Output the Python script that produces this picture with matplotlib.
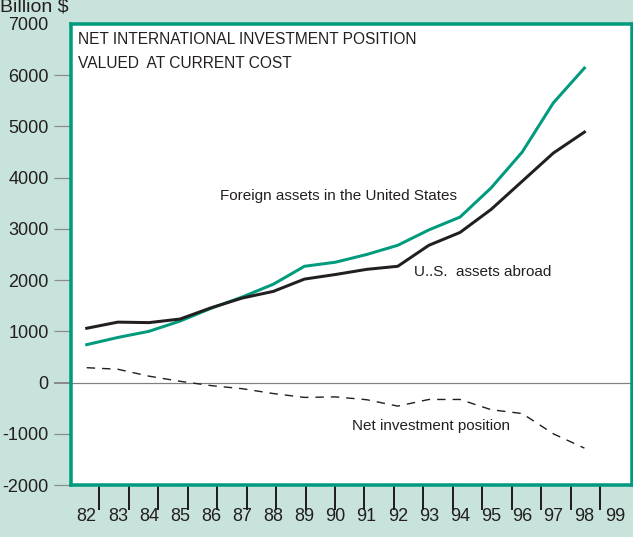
import numpy as np
import matplotlib.pyplot as plt

# data (billion $)
years = np.arange(82, 99)
us_assets_abroad = [1060, 1180, 1170, 1240, 1460, 1650, 1780, 2020, 2110, 2210, 2270,
                    2680, 2930, 3380, 3930, 4480, 4890]
foreign_assets_us = [740, 880, 1000, 1200, 1450, 1670, 1920, 2270, 2350, 2500, 2680,
                     2980, 3230, 3800, 4500, 5460, 6140]
net_position = [290, 260, 125, 25, -60, -120, -215, -290, -280, -335, -460,
                -330, -330, -530, -605, -1000, -1280]
year_labels = [str(y) for y in range(82, 100)]
yticks = [-2000, -1000, 0, 1000, 2000, 3000, 4000, 5000, 6000, 7000]

bg = '#c8e3dc'
green = '#009b7d'
ink = '#231f20'
plt.rcParams['font.family'] = ['Liberation Sans', 'DejaVu Sans']

W, H = 633, 537
PT = 72 / 100  # points per pixel at dpi 100
fig = plt.figure(figsize=(W / 100, H / 100), dpi=100, facecolor=bg)
ax = fig.add_axes([70.7 / W, (H - 485) / H, (631.7 - 70.7) / W, (485 - 24) / H])
ax.set_facecolor('white')

ax.plot(years, foreign_assets_us, color=green, lw=3 * PT, solid_joinstyle='round')
ax.plot(years, us_assets_abroad, color=ink, lw=3 * PT, solid_joinstyle='round')
ax.plot(years, net_position, color=ink, lw=1.4 * PT, dashes=(6, 5))
ax.axhline(0, color='#808080', lw=1.2 * PT, zorder=0)

ax.set_xlim(81.485, 99.52)
ax.set_ylim(-2000, 7000)

for s in ax.spines.values():
    s.set_color(green)
    s.set_linewidth(3.5 * PT)

# y axis
ax.set_yticks(yticks)
ax.set_yticklabels([str(v) for v in yticks], fontsize=13)
ax.tick_params(axis='y', length=17 * PT, width=1.2 * PT, color='#8a8a8a', pad=5 * PT,
               labelcolor=ink)
for val, t in zip(yticks, ax.yaxis.get_major_ticks()):
    if val == 0:
        t.tick1line.set_color(ink)
        t.tick1line.set_markeredgewidth(2 * PT)
    if val == 7000:
        t.tick1line.set_visible(False)

# x axis: labels under the year positions, tick marks slightly offset
label_pos = np.arange(82, 100)
ax.set_xticks(label_pos)
ax.set_xticklabels(year_labels, fontsize=13)
ax.tick_params(axis='x', which='major', length=0, pad=23 * PT, labelcolor=ink)
tick_pos = 82.405 + (label_pos - 82) * 0.947
ax.set_xticks(tick_pos, minor=True)
ax.tick_params(axis='x', which='minor', length=25 * PT, width=2 * PT, color=ink,
               direction='out')

ax.text(0.0135, 0.983, 'NET INTERNATIONAL INVESTMENT POSITION\nVALUED  AT CURRENT COST',
        transform=ax.transAxes, fontsize=11.2, va='top', ha='left', linespacing=1.75,
        color=ink)
ax.text(86.29, 3637, 'Foreign assets in the United States', fontsize=11, va='center',
        color=ink)
ax.text(92.52, 2153, 'U..S.  assets abroad', fontsize=11, va='center', color=ink)
ax.text(90.53, -853, 'Net investment position', fontsize=11, va='center', color=ink)

fig.text(0.0, 1 - 7 / H, 'Billion $', fontsize=14, va='center', ha='left', color=ink)

fig.savefig('out.png', dpi=100, facecolor=bg)
